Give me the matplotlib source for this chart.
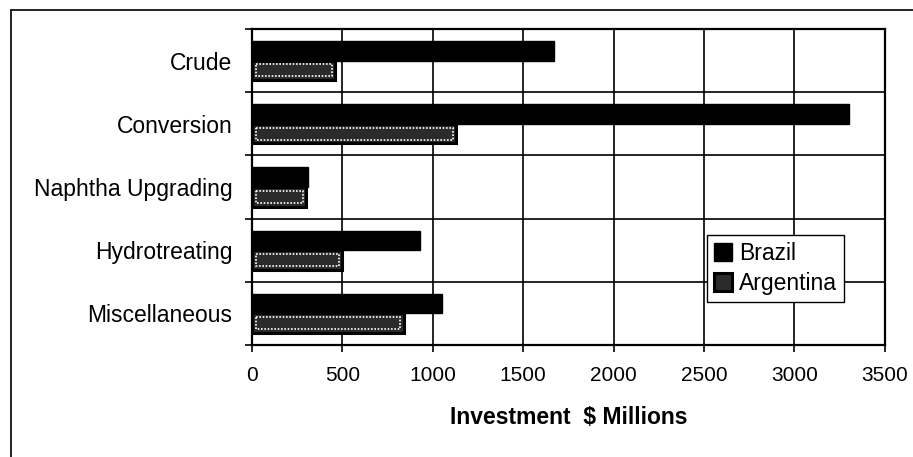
import numpy as np
import matplotlib
matplotlib.use("Agg")
import matplotlib.pyplot as plt
from matplotlib.patches import Rectangle

plt.rcParams['font.family'] = ['Liberation Sans', 'DejaVu Sans']

categories = ['Crude', 'Conversion', 'Naphtha Upgrading', 'Hydrotreating', 'Miscellaneous']
brazil = [1670, 3300, 310, 930, 1050]
argentina = [460, 1130, 300, 500, 840]
xticks = [0, 500, 1000, 1500, 2000, 2500, 3000, 3500]

fig = plt.figure(figsize=(9.13, 4.57), dpi=100)
ax = fig.add_axes([0.276, 0.245, 0.693, 0.6915])

y = np.arange(len(categories))
h = 0.31

ax.barh(y - h / 2, brazil, height=h, color='black', edgecolor='black', lw=1, label='Brazil', zorder=3)
ax.barh(y + h / 2, argentina, height=h, color='#2b2b2b', edgecolor='black', lw=2.2, label='Argentina', zorder=3)
# dotted white inner outline on the Argentina bars
arg = np.array(argentina)
ax.barh(y + h / 2, arg - 40, left=20, height=h * 0.62, color='none',
        edgecolor='white', lw=1.2, linestyle=(0, (1, 1)), zorder=4)

ax.set_xlim(0, 3500)
ax.set_ylim(len(categories) - 0.5, -0.5)
ax.set_xticks(xticks)
ax.set_xticklabels([str(t) for t in xticks], fontsize=15)
ax.tick_params(axis='x', length=5, width=1.2, pad=10, color='black')

# boundaries between categories carry ticks and gridlines, names sit in between
ax.set_yticks(np.arange(len(categories) + 1) - 0.5)
ax.set_yticklabels([])
ax.tick_params(axis='y', which='major', length=5, width=1.2)
ax.set_yticks(y, minor=True)
ax.set_yticklabels(categories, minor=True, fontsize=16.5)
ax.tick_params(axis='y', which='minor', length=0, pad=14)

ax.grid(True, which='major', color='black', lw=1.2, zorder=0)
ax.set_axisbelow(True)
for s in ax.spines.values():
    s.set_linewidth(1.6)
    s.set_color('black')

ax.set_xlabel('Investment  $ Millions', fontsize=16.5, fontweight='bold', labelpad=15)

leg = ax.legend(loc='upper left', bbox_to_anchor=(707 / 913, 1 - 235 / 457),
                bbox_transform=fig.transFigure, fontsize=16.5, handlelength=0.8,
                handleheight=0.8, handletextpad=0.3, borderpad=0.3,
                labelspacing=0.3, borderaxespad=0, fancybox=False, framealpha=1)
leg.get_frame().set_edgecolor('black')
leg.get_frame().set_linewidth(1.0)

# page frame around the whole chart
fig.patches.append(Rectangle((11 / 913, -0.2), 1.2, 1.2 - 10 / 457, transform=fig.transFigure,
                             fill=False, edgecolor='#222222', lw=1.4))

fig.savefig('out.png', dpi=100)
